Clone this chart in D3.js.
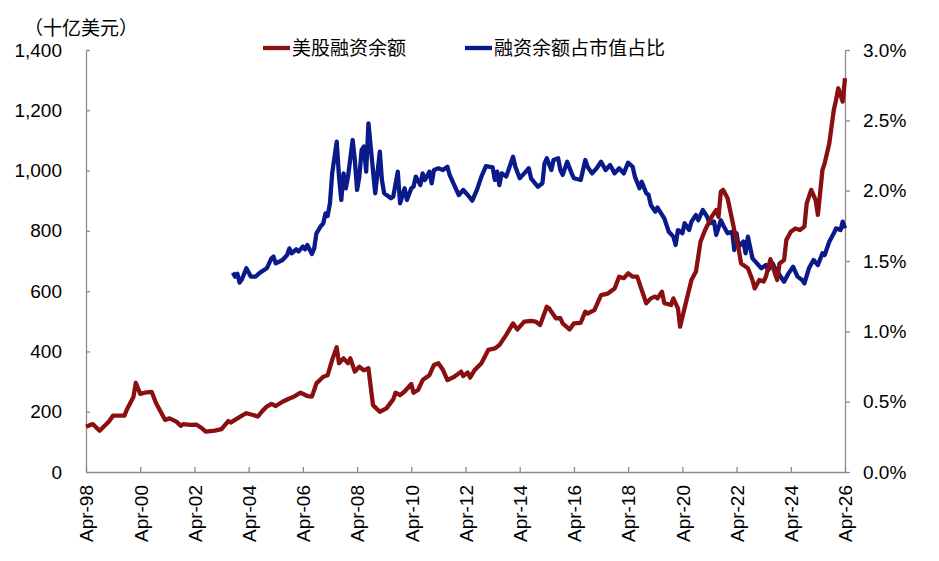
<!DOCTYPE html>
<html>
<head>
<meta charset="utf-8">
<script src="https://cdn.jsdelivr.net/npm/d3@7"></script>
<style>
  body { margin: 0; background: #fff; }
  svg text { font-family: "Liberation Sans", Arial, sans-serif; fill: #000; }
  svg .cjk { font-family: "Noto Sans CJK SC", sans-serif; }
</style>
</head>
<body>
<svg id="chart" width="939" height="561"></svg>
<script>
// 美股融资余额 (十亿美元), month -> value
var marginDebt = [
  ["1998-04",150],["1998-07",159],["1998-10",137],["1999-01",159],["1999-02",167],["1999-04",187],
  ["1999-09",187],["1999-10",206],["2000-01",250],["2000-02",296],["2000-04",259],["2000-06",263],
  ["2000-09",266],["2000-11",228],["2001-01",200],["2001-03",173],["2001-05",178],["2001-08",167],
  ["2001-10",153],["2001-11",159],["2002-02",156],["2002-05",157],["2002-07",147],["2002-09",134],
  ["2003-01",137],["2003-04",142],["2003-07",169],["2003-08",164],["2003-11",178],["2004-01",187],
  ["2004-03",195],["2004-06",189],["2004-08",184],["2004-10",202],["2004-12",217],["2005-02",226],
  ["2005-04",219],["2005-07",233],["2005-10",244],["2005-12",250],["2006-03",263],["2006-06",252],
  ["2006-08",250],["2006-10",294],["2007-01",316],["2007-03",321],["2007-05",372],["2007-07",414],
  ["2007-08",361],["2007-10",377],["2007-12",361],["2008-01",377],["2008-03",333],["2008-05",349],
  ["2008-07",337],["2008-09",344],["2008-10",283],["2008-11",222],["2009-02",200],["2009-05",211],
  ["2009-08",241],["2009-09",263],["2009-11",255],["2010-01",267],["2010-04",292],["2010-05",263],
  ["2010-07",272],["2010-09",305],["2010-12",321],["2011-02",355],["2011-04",361],["2011-06",339],
  ["2011-08",305],["2011-11",316],["2012-02",333],["2012-03",318],["2012-05",330],["2012-06",313],
  ["2012-08",338],["2012-11",361],["2013-02",405],["2013-05",410],["2013-07",421],["2013-10",455],
  ["2014-01",493],["2014-03",473],["2014-06",499],["2014-09",501],["2014-11",499],["2015-01",488],
  ["2015-04",548],["2015-05",543],["2015-08",510],["2015-10",510],["2015-11",493],["2016-02",473],
  ["2016-04",493],["2016-07",495],["2016-09",532],["2016-10",526],["2017-01",537],["2017-04",587],
  ["2017-07",592],["2017-10",609],["2017-12",648],["2018-02",643],["2018-04",659],["2018-06",648],
  ["2018-08",648],["2018-10",604],["2018-12",560],["2019-02",576],["2019-04",582],["2019-05",576],
  ["2019-07",598],["2019-08",560],["2019-11",554],["2019-12",576],["2020-02",543],["2020-03",482],
  ["2020-06",576],["2020-08",637],["2020-10",665],["2020-12",764],["2021-02",803],["2021-05",847],
  ["2021-07",869],["2021-08",847],["2021-09",930],["2021-10",936],["2021-12",908],["2022-02",836],
  ["2022-03",803],["2022-05",737],["2022-06",692],["2022-09",676],["2022-11",637],["2022-12",609],
  ["2023-02",637],["2023-04",632],["2023-05",648],["2023-07",706],["2023-08",681],["2023-10",637],
  ["2023-11",692],["2024-01",703],["2024-02",770],["2024-04",797],["2024-06",808],["2024-08",803],
  ["2024-10",814],["2024-11",891],["2025-01",936],["2025-03",902],["2025-04",853],["2025-06",1002],
  ["2025-07",1024],["2025-09",1090],["2025-11",1201],["2025-12",1234],["2026-01",1273],["2026-03",1229],
  ["2026-04",1306]
];

// 融资余额占市值占比 (%)
var debtRatio = [
  ["2003-09",1.417],["2003-10",1.389],["2003-11",1.41],["2003-12",1.346],["2004-01",1.37],["2004-03",1.448],
  ["2004-05",1.389],["2004-07",1.389],["2004-09",1.417],["2004-12",1.448],["2005-02",1.519],["2005-03",1.531],
  ["2005-04",1.483],["2005-07",1.507],["2005-09",1.543],["2005-10",1.59],["2005-11",1.555],["2006-01",1.583],
  ["2006-02",1.567],["2006-04",1.602],["2006-05",1.583],["2006-06",1.614],["2006-08",1.55],["2006-09",1.59],
  ["2006-10",1.697],["2006-12",1.749],["2007-01",1.768],["2007-02",1.839],["2007-03",1.82],["2007-04",1.91],
  ["2007-05",2.123],["2007-07",2.348],["2007-08",2.1],["2007-09",1.934],["2007-10",2.123],["2007-11",2.017],
  ["2007-12",2.1],["2008-02",2.36],["2008-03",2.218],["2008-04",2.005],["2008-05",2.1],["2008-06",2.289],
  ["2008-07",2.313],["2008-08",2.135],["2008-09",2.479],["2008-10",2.313],["2008-12",1.981],["2009-02",2.277],
  ["2009-03",2.076],["2009-04",1.981],["2009-07",1.946],["2009-08",1.958],["2009-10",2.135],["2009-11",1.91],
  ["2010-01",2.017],["2010-02",1.934],["2010-04",2.017],["2010-05",2.028],["2010-06",2.1],["2010-08",2.04],
  ["2010-09",2.123],["2010-10",2.076],["2010-12",2.135],["2011-01",2.052],["2011-02",2.147],["2011-04",2.159],
  ["2011-06",2.147],["2011-08",2.17],["2011-09",2.11],["2011-11",2.04],["2012-01",1.969],["2012-03",2.005],
  ["2012-05",1.969],["2012-07",1.929],["2012-09",2.005],["2012-11",2.1],["2013-01",2.175],["2013-04",2.166],
  ["2013-05",2.076],["2013-06",2.135],["2013-07",2.04],["2013-08",2.123],["2013-10",2.1],["2014-01",2.241],
  ["2014-02",2.17],["2014-04",2.088],["2014-06",2.123],["2014-08",2.159],["2014-09",2.088],["2014-12",2.028],
  ["2015-02",2.052],["2015-03",2.194],["2015-04",2.23],["2015-06",2.147],["2015-07",2.218],["2015-09",2.23],
  ["2015-10",2.147],["2015-11",2.112],["2016-01",2.206],["2016-03",2.123],["2016-04",2.088],["2016-07",2.076],
  ["2016-09",2.218],["2016-10",2.17],["2016-12",2.123],["2017-02",2.159],["2017-04",2.206],["2017-06",2.147],
  ["2017-08",2.182],["2017-10",2.123],["2017-12",2.159],["2018-02",2.123],["2018-04",2.199],["2018-06",2.17],
  ["2018-07",2.1],["2018-09",2.017],["2018-10",2.064],["2018-12",1.981],["2019-01",1.97],["2019-02",1.898],
  ["2019-04",1.851],["2019-05",1.88],["2019-08",1.803],["2019-10",1.708],["2019-12",1.673],["2020-01",1.614],
  ["2020-02",1.72],["2020-04",1.697],["2020-05",1.768],["2020-07",1.72],["2020-08",1.78],["2020-10",1.827],
  ["2020-11",1.79],["2021-01",1.862],["2021-03",1.815],["2021-04",1.768],["2021-06",1.78],["2021-07",1.685],
  ["2021-09",1.79],["2021-10",1.756],["2021-12",1.697],["2022-02",1.708],["2022-03",1.578],["2022-04",1.697],
  ["2022-05",1.602],["2022-07",1.638],["2022-08",1.555],["2022-09",1.673],["2022-11",1.519],["2023-01",1.483],
  ["2023-03",1.448],["2023-05",1.471],["2023-06",1.436],["2023-08",1.483],["2023-09",1.448],["2023-11",1.4],
  ["2024-01",1.353],["2024-03",1.412],["2024-05",1.459],["2024-07",1.389],["2024-09",1.365],["2024-10",1.341],
  ["2024-12",1.448],["2025-02",1.507],["2025-04",1.471],["2025-06",1.555],["2025-07",1.543],["2025-09",1.637],
  ["2025-11",1.697],["2025-12",1.732],["2026-02",1.72],["2026-03",1.78],["2026-04",1.732]
];

var leftTicks = [0, 200, 400, 600, 800, 1000, 1200, 1400];
var rightTicks = [0, 0.5, 1.0, 1.5, 2.0, 2.5, 3.0];
var tickYears = d3.range(1998, 2027, 2);
var seriesNames = ["美股融资余额", "融资余额占市值占比"];
var unitLabel = "（十亿美元）";

var colors = { red: "#8a0f10", blue: "#0b1a8a", axis: "#8c8c8c" };

var svg = d3.select("#chart");
var margin = {top: 50, right: 94, bottom: 89, left: 86},
    width = +svg.attr("width") - margin.left - margin.right,
    height = +svg.attr("height") - margin.top - margin.bottom;

var parse = d3.timeParse("%Y-%m");

var x = d3.scaleTime()
    .domain([parse("1998-04"), parse("2026-04")])
    .range([0, width]);
var yL = d3.scaleLinear().domain([0, 1400]).range([height, 0]);
var yR = d3.scaleLinear().domain([0, 3.0]).range([height, 0]);

var g = svg.append("g")
    .attr("transform", "translate(" + margin.left + "," + margin.top + ")");

// axes
var xAxis = g.append("g")
    .attr("transform", "translate(0," + height + ")")
    .call(d3.axisBottom(x)
      .tickValues(tickYears.map(function(yr) { return new Date(yr, 3, 1); }))
      .tickFormat(d3.timeFormat("%b-%y"))
      .tickSizeInner(-5).tickSizeOuter(0).tickPadding(0));
xAxis.selectAll("text")
    .attr("transform", "rotate(-90)")
    .attr("x", -13)
    .attr("y", 0)
    .attr("dy", "0.36em")
    .attr("text-anchor", "end")
    .style("font-size", "19px");

var leftAxis = g.append("g")
    .call(d3.axisLeft(yL)
      .tickValues(leftTicks)
      .tickFormat(d3.format(","))
      .tickSizeInner(-4).tickSizeOuter(0).tickPadding(24));
leftAxis.selectAll("text").style("font-size", "19px");

var rightAxis = g.append("g")
    .attr("transform", "translate(" + width + ",0)")
    .call(d3.axisRight(yR)
      .tickValues(rightTicks)
      .tickFormat(function(d) { return d.toFixed(1) + "%"; })
      .tickSizeInner(5).tickSizeOuter(0).tickPadding(13));
rightAxis.selectAll("text").style("font-size", "19px");

g.selectAll(".domain, .tick line")
    .attr("stroke", colors.axis)
    .attr("stroke-width", 1.3);
g.selectAll(".tick text").attr("fill", "#000");

// lines
var lineL = d3.line()
    .x(function(d) { return x(parse(d[0])); })
    .y(function(d) { return yL(d[1]); });
var lineR = d3.line()
    .x(function(d) { return x(parse(d[0])); })
    .y(function(d) { return yR(d[1]); });

g.append("path")
    .datum(debtRatio)
    .attr("fill", "none")
    .attr("stroke", colors.blue)
    .attr("stroke-width", 4.3)
    .attr("stroke-linejoin", "round")
    .attr("d", lineR);

g.append("path")
    .datum(marginDebt)
    .attr("fill", "none")
    .attr("stroke", colors.red)
    .attr("stroke-width", 4.3)
    .attr("stroke-linejoin", "round")
    .attr("d", lineL);

// unit label
svg.append("text")
    .attr("class", "cjk")
    .attr("x", 24)
    .attr("y", 35)
    .style("font-size", "19px")
    .text(unitLabel);

// legend
var legend = [
  {name: seriesNames[0], color: colors.red, x: 263},
  {name: seriesNames[1], color: colors.blue, x: 465}
];
var lg = svg.selectAll(".legend")
    .data(legend)
    .enter().append("g")
      .attr("class", "legend")
      .attr("transform", function(d) { return "translate(" + d.x + ",48)"; });
lg.append("line")
    .attr("x1", 0).attr("x2", 27)
    .attr("y1", 0).attr("y2", 0)
    .attr("stroke", function(d) { return d.color; })
    .attr("stroke-width", 4.3);
lg.append("text")
    .attr("class", "cjk")
    .attr("x", 29)
    .attr("y", 7)
    .style("font-size", "19px")
    .text(function(d) { return d.name; });
</script>
</body>
</html>
